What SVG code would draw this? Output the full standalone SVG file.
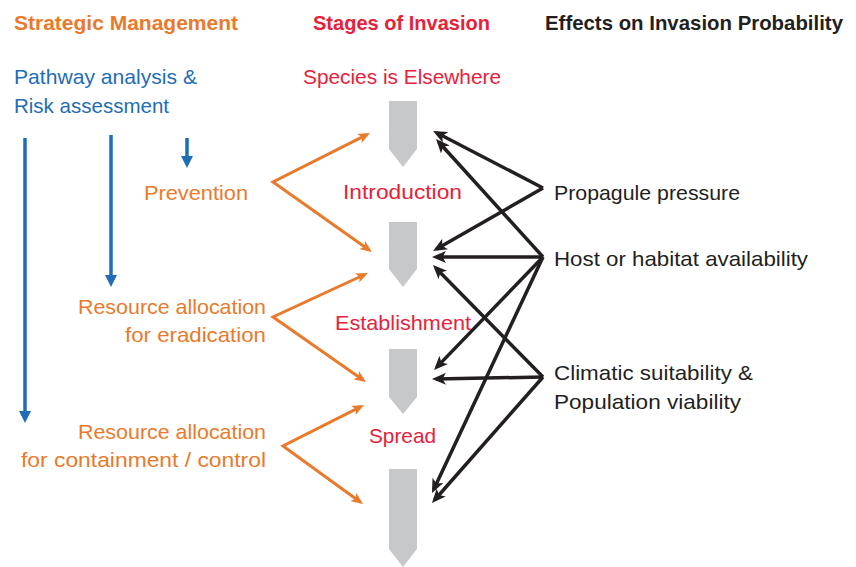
<svg xmlns="http://www.w3.org/2000/svg" width="856" height="567" viewBox="0 0 856 567">
<style>
text{font-family:"Liberation Sans",Arial,sans-serif;font-size:21px}
.b{font-weight:bold}
.or{fill:#E97A2C}.rd{fill:#E8213A}.bl{fill:#1E6DB6}.bk{fill:#231F20}
.stage{fill:#C7C8CA}
.ca{fill:none;stroke:#E97A2C;stroke-width:3;stroke-linejoin:miter;marker-start:url(#mo);marker-end:url(#mo)}
.cb{fill:none;stroke:#231F20;stroke-width:3.5;marker-end:url(#mk)}
.cl{fill:none;stroke:#1E6DB6;stroke-width:3.5;marker-end:url(#mb)}
</style>
<defs>
<marker id="mk" markerUnits="userSpaceOnUse" viewBox="0 0 14 12" markerWidth="14" markerHeight="12" refX="10" refY="6" orient="auto"><path d="M0,0 L14,6 L0,12 L3.5,6 z" fill="#231F20"/></marker>
<marker id="mo" markerUnits="userSpaceOnUse" viewBox="0 0 12 10" markerWidth="12" markerHeight="10" refX="8.5" refY="5" orient="auto-start-reverse"><path d="M0,0 L12,5 L0,10 L3,5 z" fill="#E97A2C"/></marker>
<marker id="mb" markerUnits="userSpaceOnUse" viewBox="0 0 12 12" markerWidth="12" markerHeight="12" refX="8" refY="6" orient="auto"><path d="M0,0 L12,6 L0,12 z" fill="#1E6DB6"/></marker>
</defs>

<g id="headers">
<text class="b or" x="14" y="30" textLength="224" lengthAdjust="spacingAndGlyphs">Strategic Management</text>
<text class="b rd" x="313" y="30" textLength="177" lengthAdjust="spacingAndGlyphs">Stages of Invasion</text>
<text class="b bk" x="545" y="30" textLength="298" lengthAdjust="spacingAndGlyphs">Effects on Invasion Probability</text>
</g>

<g id="stages">
<g id="stage-shape-1"><path class="stage" d="M389,101 H417 V149 L403,167 L389,149 Z"/></g>
<g id="stage-shape-2"><path class="stage" d="M389,222 H417 V269 L403,287 L389,269 Z"/></g>
<g id="stage-shape-3"><path class="stage" d="M389,349 H417 V397 L403,414 L389,397 Z"/></g>
<g id="stage-shape-4"><path class="stage" d="M389,469 H417 V549 L403,567 L389,549 Z"/></g>
<g id="species-elsewhere"><text class="rd" x="303" y="84" textLength="198" lengthAdjust="spacingAndGlyphs">Species is Elsewhere</text></g>
<g id="introduction"><text class="rd" x="343" y="199" textLength="119" lengthAdjust="spacingAndGlyphs">Introduction</text></g>
<g id="establishment"><text class="rd" x="335" y="330" textLength="136" lengthAdjust="spacingAndGlyphs">Establishment</text></g>
<g id="spread"><text class="rd" x="369" y="443" textLength="67" lengthAdjust="spacingAndGlyphs">Spread</text></g>
</g>

<g id="management">
<g id="pathway"><text class="bl" x="14" y="84" textLength="183" lengthAdjust="spacingAndGlyphs">Pathway analysis &amp;</text>
<text class="bl" x="14" y="113" textLength="155" lengthAdjust="spacingAndGlyphs">Risk assessment</text></g>
<g id="prevention"><text class="or" x="144" y="200" textLength="104" lengthAdjust="spacingAndGlyphs">Prevention</text></g>
<g id="eradication"><text class="or" x="78" y="314" textLength="188" lengthAdjust="spacingAndGlyphs">Resource allocation</text>
<text class="or" x="125" y="342" textLength="141" lengthAdjust="spacingAndGlyphs">for eradication</text></g>
<g id="containment"><text class="or" x="78" y="439" textLength="188" lengthAdjust="spacingAndGlyphs">Resource allocation</text>
<text class="or" x="21" y="467" textLength="245" lengthAdjust="spacingAndGlyphs">for containment / control</text></g>
</g>

<g id="effects">
<g id="propagule"><text class="bk" x="554" y="200" textLength="186" lengthAdjust="spacingAndGlyphs">Propagule pressure</text></g>
<g id="host"><text class="bk" x="554" y="266" textLength="254" lengthAdjust="spacingAndGlyphs">Host or habitat availability</text></g>
<g id="climatic"><text class="bk" x="554" y="380" textLength="199" lengthAdjust="spacingAndGlyphs">Climatic suitability &amp;</text>
<text class="bk" x="554" y="409" textLength="187" lengthAdjust="spacingAndGlyphs">Population viability</text></g>
</g>

<g id="connectors">
<path class="cl" d="M25,138 V419"/>
<path class="cl" d="M111,135 V283"/>
<path class="cl" d="M187,138 V164"/>

<path class="ca" d="M366.9,134.6 L273,182 L369.1,250"/>
<path class="ca" d="M364.8,274.5 L273,317 L363.1,380"/>
<path class="ca" d="M360.9,406.6 L283,446 L360.2,502"/>

<path class="cb" d="M543,188 L436.6,132.8"/>
<path class="cb" d="M543,188 L436.5,249"/>
<path class="cb" d="M543,257 L438.7,142"/>
<path class="cb" d="M543,257 L436,257"/>
<path class="cb" d="M543,257 L436.8,367.1"/>
<path class="cb" d="M543,257 L433.7,489.4"/>
<path class="cb" d="M543,377 L435.8,267.9"/>
<path class="cb" d="M543,377 L436,379"/>
<path class="cb" d="M543,377 L434.6,500"/>
</g>
</svg>
